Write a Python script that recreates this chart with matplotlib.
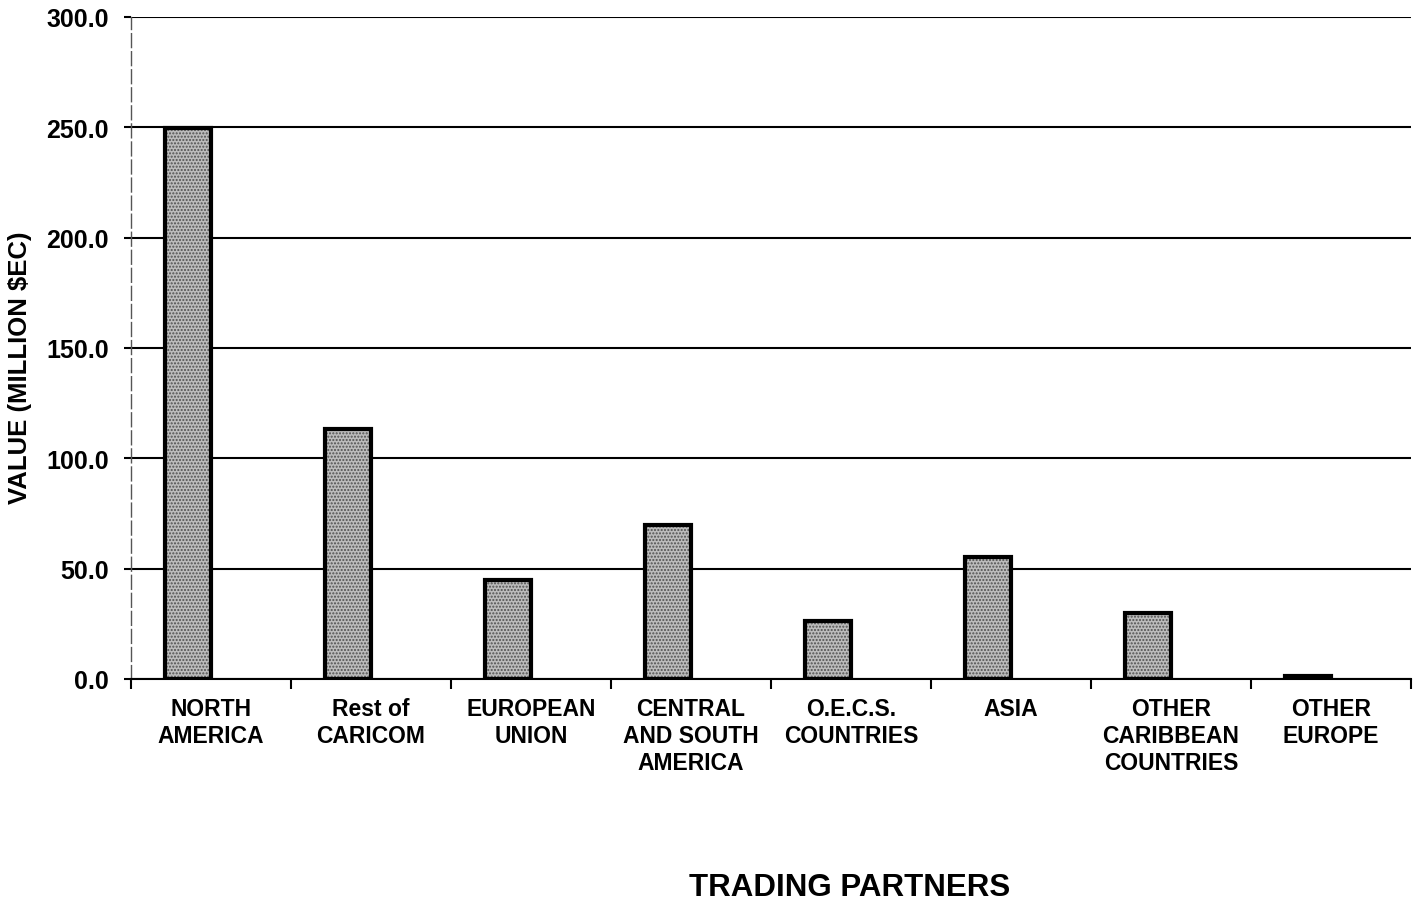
import numpy as np
import matplotlib
matplotlib.use('Agg')
import matplotlib.pyplot as plt

partners = ['NORTH\nAMERICA', 'Rest of\nCARICOM', 'EUROPEAN\nUNION', 'CENTRAL\nAND SOUTH\nAMERICA',
            'O.E.C.S.\nCOUNTRIES', 'ASIA', 'OTHER\nCARIBBEAN\nCOUNTRIES', 'OTHER\nEUROPE']
values = [249.6, 113.5, 44.8, 69.6, 26.5, 55.5, 29.8, 1.2]
yticks = [0, 50, 100, 150, 200, 250, 300]

plt.rcParams['font.family'] = 'Liberation Sans'
plt.rcParams['font.weight'] = 'bold'

fig = plt.figure(figsize=(14.14, 9.04), dpi=100)
ax = fig.add_axes([131 / 1414, 1 - 680 / 904, 1280 / 1414, 662 / 904])

x = np.arange(len(partners))
w = 0.29
# stippled fill, then a heavy black outline on top
ax.bar(x - w / 2, values, w, color='#bcbcbc', edgecolor='#505050', hatch='.....',
       linewidth=0, zorder=3)
ax.bar(x - w / 2, values, w, fill=False, edgecolor='black', linewidth=3, zorder=4)

ax.set_xlim(-0.5, len(partners) - 0.5)
ax.set_ylim(0, 300)
ax.set_yticks(yticks)
ax.set_yticklabels([f'{v:.1f}' for v in yticks], fontsize=18, fontweight='bold')
ax.yaxis.grid(True, color='black', linewidth=1.5)
ax.set_axisbelow(True)

ax.set_xticks(x)
ax.set_xticklabels(partners, fontsize=16.5, fontweight='bold', linespacing=1.22)
ax.set_xticks(np.arange(-0.5, len(partners)), minor=True)
ax.tick_params(axis='x', which='major', length=0, pad=13)
ax.tick_params(axis='x', which='minor', length=7, width=1.5, direction='out')
ax.tick_params(axis='y', length=5, width=1.5, pad=11)

ax.spines['top'].set_visible(False)
ax.spines['right'].set_visible(False)
ax.spines['bottom'].set_linewidth(1.5)
ax.spines['left'].set_linewidth(1)
ax.spines['left'].set_color('#555555')
ax.spines['left'].set_linestyle((0, (10, 3)))

fig.text(20 / 1414, 1 - 368 / 904, 'VALUE (MILLION $EC)', rotation=90, ha='center', va='center',
         fontsize=18.5, fontweight='bold')
fig.text(850 / 1414, 1 - 888 / 904, 'TRADING PARTNERS', ha='center', va='center',
         fontsize=22.5, fontweight='bold')

fig.savefig('out.png', dpi=100)
